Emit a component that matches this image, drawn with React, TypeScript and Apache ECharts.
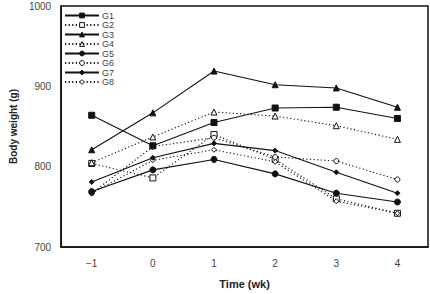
import React, { useEffect, useRef } from "react";
import * as echarts from "echarts";

const categories = ["-1", "0", "1", "2", "3", "4"];
const seriesNames = ["G1", "G2", "G3", "G4", "G5", "G6", "G7", "G8"];
const g1 = [864, 826, 855, 873, 874, 860];
const g2 = [804, 786, 840, 809, 760, 742];
const g3 = [821, 867, 919, 902, 898, 874];
const g4 = [805, 837, 868, 863, 851, 834];
const g5 = [769, 796, 809, 791, 767, 756];
const g6 = [767, 825, 836, 812, 807, 784];
const g7 = [781, 811, 829, 820, 793, 767];
const g8 = [767, 808, 821, 806, 757, 742];
const yTicks = [700, 800, 900, 1000];

const seriesData = [g1, g2, g3, g4, g5, g6, g7, g8];
const symbols = ["rect", "rect", "triangle", "triangle", "circle", "circle", "diamond", "diamond"];
const hollow = [false, true, false, true, false, true, false, true];
const sizes = [6, 6, 6, 6, 6, 5, 5, 5];

export default function App() {
  const ref = useRef<HTMLDivElement>(null);
  useEffect(() => {
    if (!ref.current) return;
    const chart = echarts.init(ref.current, null, { renderer: "svg" });
    const font = "Liberation Sans";
    chart.setOption({
      animation: false,
      grid: {
        left: 50,
        right: 2,
        top: 6,
        bottom: 45,
        show: true,
        borderColor: "#111",
        borderWidth: 1.5,
      },
      legend: {
        orient: "vertical",
        left: 64,
        top: 11,
        padding: 0,
        itemWidth: 34,
        itemHeight: 6,
        itemGap: 0.5,
        data: seriesNames.map((n, i) => ({
          name: n,
          itemStyle: {
            color: hollow[i] ? "#fff" : "#111",
            borderColor: "#111",
            borderWidth: 1,
          },
        })),
        textStyle: {
          fontFamily: font,
          fontSize: 9,
          lineHeight: 7,
          height: 7,
          color: "#444",
          padding: [0, 0, 0, -2],
        },
      },
      xAxis: {
        type: "category",
        data: categories,
        boundaryGap: true,
        name: "Time (wk)",
        nameLocation: "middle",
        nameGap: 31,
        nameTextStyle: { fontFamily: font, fontSize: 11, fontWeight: "bold", color: "#222" },
        axisLine: { show: true, lineStyle: { color: "#111", width: 1.5 } },
        axisTick: { show: false },
        axisLabel: {
          fontFamily: font,
          fontSize: 10,
          color: "#444",
          margin: 11,
          formatter: (v: string) => (v === "-1" ? "\u22121" : v),
        },
        splitLine: { show: false },
      },
      yAxis: {
        type: "value",
        min: yTicks[0],
        max: yTicks[yTicks.length - 1],
        interval: 100,
        name: "Body weight (g)",
        nameLocation: "middle",
        nameGap: 38,
        nameTextStyle: { fontFamily: font, fontSize: 10, fontWeight: "bold", color: "#222" },
        axisLine: { show: true, lineStyle: { color: "#111", width: 1.5 } },
        axisTick: { show: false },
        axisLabel: {
          fontFamily: font,
          fontSize: 10,
          color: "#444",
          margin: 10,
          formatter: (v: number) => String(v),
        },
        splitLine: { show: false },
      },
      series: seriesData.map((d, i) => ({
        name: seriesNames[i],
        type: "line",
        data: d,
        symbol: symbols[i],
        symbolSize: sizes[i],
        showAllSymbol: true,
        lineStyle: { color: "#111", width: 1.1, type: hollow[i] ? [1.2, 2.4] : "solid" },
        itemStyle: {
          color: hollow[i] ? "#fff" : "#111",
          borderColor: "#111",
          borderWidth: 1,
        },
        z: hollow[i] ? 2 : 3,
      })),
    });
    return () => chart.dispose();
  }, []);
  return <div ref={ref} style={{ width: 430, height: 294, position: "absolute", left: 0, top: 0 }} />;
}
